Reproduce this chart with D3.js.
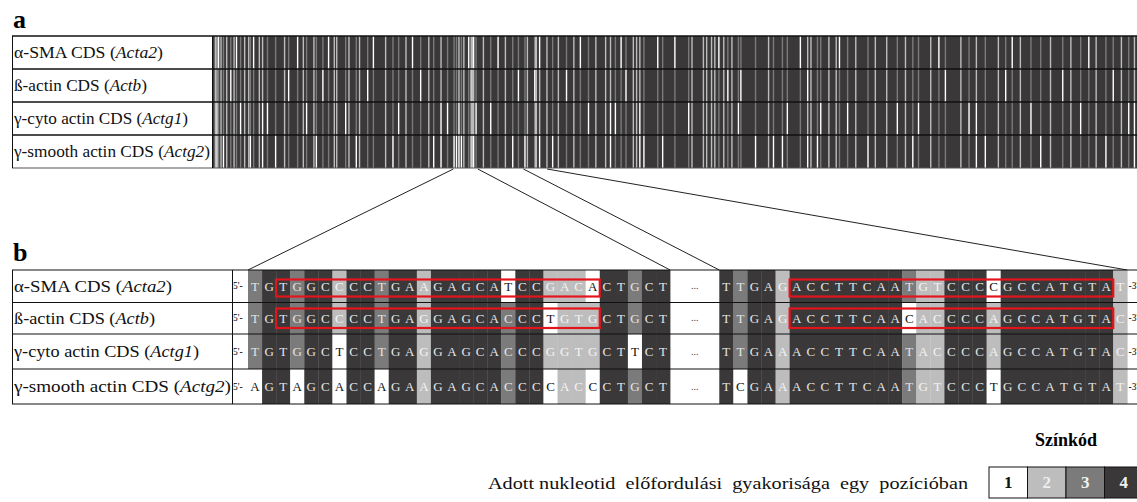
<!DOCTYPE html>
<html>
<head>
<meta charset="utf-8">
<script src="https://cdn.jsdelivr.net/npm/d3@7"></script>
<style>
  body { margin: 0; background: #fff; }
  svg { display: block; }
</style>
</head>
<body>
<svg id="fig" width="1137" height="502" font-family="'Liberation Serif', 'Times New Roman', serif"></svg>
<script>
// ---- data -------------------------------------------------------------
const rowLabels = [
  ["α-SMA CDS (", "Acta2", ")"],
  ["ß-actin CDS (", "Actb", ")"],
  ["γ-cyto actin CDS (", "Actg1", ")"],
  ["γ-smooth actin CDS (", "Actg2", ")"]
];
const labelWidthsA = [149, 133, 174, 196];
const labelWidthsB = [158, 141, 185, 217];

// whole-CDS alignment length (columns)
const alignLength = 1134;

// two aligned stretches shown in detail (same row order as rowLabels)
const segment1Start = 295;
const segment1 = [
  "TGTGGCCCCTGAAGAGCATCCGACACTGCT",
  "TGTGGCCCCTGAGGAGCACCCTGTGCTGCT",
  "TGTGGCTCCTGAGGAGCACCCGGTGCTTCT",
  "AGTAGCACCAGAAGAGCACCCCACCCTGCT"
];
const segment2Start = 381;
const segment2 = [
  "TTGAGACCTTCAATGTCCCCGCCATGTAT",
  "TTGAGACCTTCAACACCCCAGCCATGTAC",
  "TTGAAACCTTCAATACCCCAGCCATGTAC",
  "TCGAAACCTTCAATGTCCCTGCCATGTAT"
];

// primer regions (0-based cell index within a stretch), rows 0 and 1
const primerBoxes = [
  { seg: 0, from: 2, to: 24 },
  { seg: 1, from: 5, to: 27 }
];

// variable columns elsewhere in the CDS: [column, frequency code per row]
const variableColumns = [
  [2,"2222"],[4,"2211"],[6,"1333"],[9,"2222"],[12,"3331"],[16,"2222"],[21,"3133"],
  [25,"2222"],[28,"1333"],[33,"3313"],[38,"2222"],[43,"2222"],[45,"3331"],[49,"1333"],
  [56,"2222"],[60,"2211"],[66,"3313"],[76,"3331"],[87,"2222"],[92,"3133"],[103,"1333"],
  [110,"2222"],[114,"3313"],[123,"2222"],[126,"3331"],[134,"3133"],[141,"1333"],
  [148,"2222"],[151,"2222"],[162,"3313"],[166,"2222"],[175,"3331"],[179,"2222"],
  [189,"3133"],[196,"1333"],[211,"2222"],[220,"3331"],[227,"3313"],[236,"2222"],
  [244,"1333"],[254,"3133"],[264,"2222"],[270,"3331"],[279,"2211"],[287,"3313"],
  [331,"2222"],[340,"3313"],[349,"1333"],[358,"2222"],[367,"3331"],[374,"3133"],
  [416,"3331"],[423,"2222"],[433,"3133"],[442,"2222"],[450,"1333"],[460,"3313"],
  [469,"2222"],[481,"2222"],[487,"2211"],[493,"3313"],[500,"1333"],[506,"3133"],
  [515,"2222"],[519,"2222"],[523,"2211"],[528,"3331"],[545,"1333"],[551,"3331"],
  [566,"1333"],[583,"3313"],[587,"2222"],[601,"2222"],[605,"2222"],[611,"2222"],
  [615,"2222"],[620,"1333"],[626,"2222"],[631,"3133"],[636,"2222"],[644,"3313"],
  [647,"3133"],[665,"3331"],[681,"2222"],[687,"3331"],[698,"3331"],[704,"3313"],
  [720,"1333"],[729,"2121"],[733,"2222"],[741,"3331"],[745,"3313"],[755,"2222"],
  [764,"2222"],[768,"1333"],[778,"3313"],[788,"2222"],[803,"3331"],[812,"2222"],
  [826,"2222"],[839,"3313"],[849,"2222"],[858,"3331"],[865,"3313"],[880,"2222"],
  [890,"1333"],[898,"3133"],[917,"2222"],[927,"3313"],[936,"2211"],[947,"3331"],
  [963,"2222"],[972,"3133"],[980,"1333"],[990,"2222"],[1003,"3313"],[1015,"3331"],
  [1027,"2222"],[1042,"3133"],[1052,"2222"],[1064,"3313"],[1074,"1333"],[1083,"2222"],
  [1095,"3331"],[1104,"3133"],[1114,"2222"],[1123,"3313"],[1130,"2211"]
];

const legendCodes = [1, 2, 3, 4];
const legendTitle = "Színkód";
const legendText = "Adott nukleotid  előfordulási  gyakorisága  egy  pozícióban";

// ---- styles -------------------------------------------------------------
const serif = "'Liberation Serif', 'Times New Roman', serif";
const shade = { 1: "#ffffff", 2: "#bdbdbd", 3: "#7b7b7b", 4: "#3a3839" };
const ink   = { 1: "#111111", 2: "#f4f4f4", 3: "#e4e4e4", 4: "#e6e6e6" };

const svg = d3.select("#fig");

// frequency of each nucleotide in its column
function codesFor(seqs) {
  const n = seqs[0].length;
  return d3.range(n).map(i => seqs.map(s => seqs.filter(t => t[i] === s[i]).length));
}
const seg1Codes = codesFor(segment1);
const seg2Codes = codesFor(segment2);

function txt(sel) { return sel.append("text").attr("font-family", serif); }

// ---- panel a ------------------------------------------------------------
const rowsA = [36, 69, 102, 135, 168];
const xA = d3.scaleLinear().domain([0, alignLength]).range([213, 1137]);

txt(svg).attr("x", 13).attr("y", 28)
  .attr("font-size", 26).attr("font-weight", "bold").text("a");

const gA = svg.append("g");
gA.selectAll("rect.base").data(d3.range(4)).join("rect")
  .attr("x", xA(0)).attr("y", r => rowsA[r])
  .attr("width", xA(alignLength) - xA(0)).attr("height", r => rowsA[r + 1] - rowsA[r])
  .attr("fill", shade[4]);

const allColumns = variableColumns.map(([c, s]) => [c, s.split("").map(Number)]);
seg1Codes.forEach((codes, i) => { if (codes.some(k => k !== 4)) allColumns.push([segment1Start + i, codes]); });
seg2Codes.forEach((codes, i) => { if (codes.some(k => k !== 4)) allColumns.push([segment2Start + i, codes]); });

const stripeW = Math.max(1.4, xA(1) - xA(0));
allColumns.forEach(([c, codes]) => {
  codes.forEach((k, r) => {
    if (k === 4) return;
    gA.append("rect")
      .attr("x", xA(c)).attr("y", rowsA[r])
      .attr("width", stripeW).attr("height", rowsA[r + 1] - rowsA[r])
      .attr("fill", shade[k]);
  });
});

// table lines
rowsA.forEach((y, i) => {
  svg.append("line").attr("x1", 12).attr("x2", 1137).attr("y1", y).attr("y2", y)
    .attr("stroke", i === 4 ? "#555" : "#111").attr("stroke-width", i === 4 ? 1.2 : 1.3);
});
[12.5, 212.5].forEach(x => svg.append("line").attr("x1", x).attr("x2", x)
  .attr("y1", rowsA[0]).attr("y2", rowsA[4]).attr("stroke", "#111").attr("stroke-width", 1));

function drawLabel(x, y, parts, width) {
  const t = txt(svg).attr("x", x).attr("y", y).attr("font-size", 16.5)
    .attr("fill", "#111").attr("textLength", width).attr("lengthAdjust", "spacingAndGlyphs");
  t.append("tspan").text(parts[0]);
  t.append("tspan").attr("font-style", "italic").text(parts[1]);
  t.append("tspan").text(parts[2]);
}
rowLabels.forEach((p, r) => drawLabel(14, (rowsA[r] + rowsA[r + 1]) / 2 + 5.5, p, labelWidthsA[r]));

// ---- panel b ------------------------------------------------------------
const rowsB = [270, 302.5, 334, 369, 404];
const seg1X = d3.scaleBand().domain(d3.range(segment1[0].length)).range([248, 670.1]);
const seg2X = d3.scaleBand().domain(d3.range(segment2[0].length)).range([719.3, 1127.3]);

txt(svg).attr("x", 13).attr("y", 261)
  .attr("font-size", 26).attr("font-weight", "bold").text("b");

// zoom lines from the CDS overview down to the detailed stretches
const zoomLines = [
  [xA(segment1Start), seg1X.range()[0]],
  [xA(segment1Start + segment1[0].length), seg1X.range()[1]],
  [xA(segment2Start), seg2X.range()[0]],
  [xA(segment2Start + segment2[0].length), seg2X.range()[1]]
];
zoomLines.forEach(([x1, x2]) => svg.append("line")
  .attr("x1", x1).attr("y1", rowsA[4] + 1).attr("x2", x2).attr("y2", rowsB[0])
  .attr("stroke", "#222").attr("stroke-width", 1));

function drawSegment(seqs, codes, xs) {
  const g = svg.append("g");
  seqs.forEach((s, r) => {
    s.split("").forEach((nt, i) => {
      const k = codes[i][r];
      const y0 = rowsB[r], h = rowsB[r + 1] - rowsB[r];
      g.append("rect").attr("x", xs(i)).attr("y", y0)
        .attr("width", xs.bandwidth() + 0.3).attr("height", h).attr("fill", shade[k]);
      txt(g).attr("x", xs(i) + xs.bandwidth() / 2).attr("y", y0 + h / 2 + 4.5)
        .attr("text-anchor", "middle").attr("font-size", 13)
        .attr("fill", ink[k]).text(nt);
    });
  });
}
drawSegment(segment1, seg1Codes, seg1X);
drawSegment(segment2, seg2Codes, seg2X);

// row labels, 5'/3' ends and the gap mark
rowLabels.forEach((p, r) => {
  const yMid = (rowsB[r] + rowsB[r + 1]) / 2;
  drawLabel(14, yMid + 5.5, p, labelWidthsB[r]);
  txt(svg).attr("x", 233).attr("y", yMid + 3).attr("font-size", 9.5).text("5'-");
  txt(svg).attr("x", 1128.5).attr("y", yMid + 3).attr("font-size", 9.5).text("-3'");
  txt(svg).attr("x", (seg1X.range()[1] + seg2X.range()[0]) / 2).attr("y", yMid + 3)
    .attr("text-anchor", "middle").attr("font-size", 10).attr("fill", "#444").text("...");
});

// table lines
rowsB.forEach(y => svg.append("line").attr("x1", 12).attr("x2", 1137).attr("y1", y).attr("y2", y)
  .attr("stroke", "#111").attr("stroke-width", 1.2));
[12.5, 232.5].forEach(x => svg.append("line").attr("x1", x).attr("x2", x)
  .attr("y1", rowsB[0]).attr("y2", rowsB[4]).attr("stroke", "#111").attr("stroke-width", 1));

// primer boxes
primerBoxes.forEach(b => {
  const xs = b.seg === 0 ? seg1X : seg2X;
  const boxY = [[279.5, 296.5], [308.5, 328]];
  boxY.forEach(([y1, y2]) => svg.append("rect")
    .attr("x", xs(b.from)).attr("y", y1)
    .attr("width", xs(b.to) + xs.bandwidth() - xs(b.from)).attr("height", y2 - y1)
    .attr("fill", "none").attr("stroke", "#e3141b").attr("stroke-width", 2.2));
});

// ---- legend ---------------------------------------------------------------
const legendX = d3.scaleBand().domain(legendCodes).range([989, 1143]);
txt(svg).attr("x", 1066).attr("y", 446).attr("text-anchor", "middle")
  .attr("font-size", 18).attr("font-weight", "bold").text(legendTitle);
txt(svg).attr("x", 488).attr("y", 489).attr("font-size", 17.5)
  .attr("fill", "#111").style("white-space", "pre")
  .attr("textLength", 480).attr("lengthAdjust", "spacingAndGlyphs").text(legendText);
const lg = svg.append("g");
lg.selectAll("rect").data(legendCodes).join("rect")
  .attr("x", d => legendX(d)).attr("y", 467)
  .attr("width", legendX.bandwidth()).attr("height", 31)
  .attr("fill", d => shade[d]).attr("stroke", "#111").attr("stroke-width", 1);
lg.selectAll("text").data(legendCodes).join("text")
  .attr("font-family", serif)
  .attr("x", d => legendX(d) + legendX.bandwidth() / 2).attr("y", 488)
  .attr("text-anchor", "middle").attr("font-size", 17).attr("font-weight", "bold")
  .attr("fill", d => d === 1 ? "#111" : (d === 2 ? "#eeeeee" : "#f2f2f2")).text(d => d);
</script>
</body>
</html>
